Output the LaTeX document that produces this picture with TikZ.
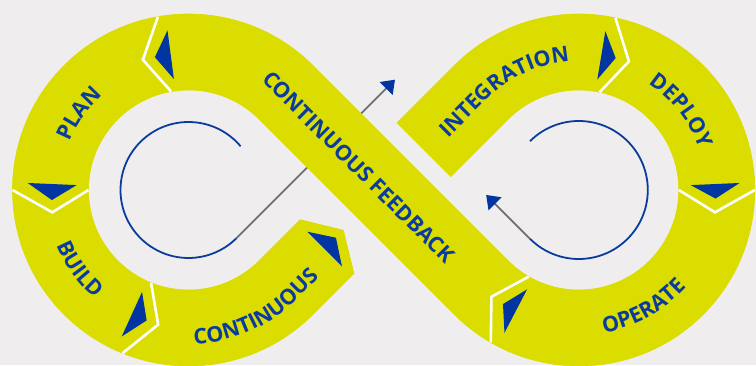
\documentclass[tikz,border=0pt]{standalone}
\usepackage{fontspec}
\setmainfont{Open Sans}
\usepackage{xcolor}
\usepackage{tikz}
\usetikzlibrary{arrows.meta, calc, decorations.text}

\definecolor{bgcol}{HTML}{EFEDEE}
\definecolor{segyellow}{HTML}{DBDD00}
\definecolor{textblue}{HTML}{0A3C9E}
\definecolor{markblue}{HTML}{0035A2}
\definecolor{linegray}{HTML}{6E6E6E}
\newcommand{\lblfont}{\fontsize{21.5}{21.5}\selectfont\bfseries\color{textblue}}

\begin{document}
\begin{tikzpicture}[
    x=1pt, y=1pt,
    segfill/.style={fill=segyellow, draw=segyellow, line width=0.6pt},
    divider/.style={draw=white, line width=2.6pt},
    tipmark/.style={fill=markblue},
    loopcurve/.style={draw=textblue, line width=1.8pt},
    loopline/.style={draw=linegray, line width=1.8pt, -{Triangle[length=12.5pt, width=18pt, color=markblue]}},
    steplabel/.style={font=\lblfont, text=textblue},
    curvedlabel/.style={decorate, decoration={text along path, text align=center, text={|\lblfont|#1}}}
]
% Canvas
\fill[bgcol] (0,0) rectangle (756,365);
\useasboundingbox (0,0) rectangle (756,365);

% Loop centres
\coordinate (cl) at (188.5,175);
\coordinate (cr) at (578.8,175);

% Inner loops with their arrows
\draw[loopcurve] ($(cl)+(40:68)$) arc[start angle=40, end angle=315, radius=68];
\coordinate (lfoot) at ($(cl)+(-45:68)$);
\coordinate (lhead) at ($(lfoot)+(45:224)$);
\draw[loopline] (lfoot) -- (lhead);
\draw[loopcurve] ($(cr)+(135:69)$) arc[start angle=135, end angle=-135, radius=69];
\coordinate (rfoot) at ($(cr)+(-135:69)$);
\coordinate (rhead) at ($(rfoot)+(135:62)$);
\draw[loopline] (rfoot) -- (rhead);

% Rings
\path[segfill] ($(cl)+(45:176)$) arc[start angle=45, end angle=315, radius=176]
    -- ($(cl)+(315:100)$) arc[start angle=315, end angle=45, radius=100] -- cycle;
\path[segfill] ($(cr)+(135:176)$) arc[start angle=135, end angle=-135, radius=176]
    -- ($(cr)+(-135:100)$) arc[start angle=-135, end angle=135, radius=100] -- cycle;
% Crossing band
\path[segfill] ($(cl)+(45:176)$) -- ($(cr)+(225:100)$) -- ($(cr)+(225:176)$) -- ($(cl)+(45:100)$) -- cycle;
% Continuous: pointed end before the crossing
\path[segfill] ($(cl)+(-45:100)$) -- ($(cl)+(-45:100)+(45:58)$) -- ($(cl)+(-45:138)+(45:81)$)
    -- ($(cl)+(-45:176)+(45:58)$) -- ($(cl)+(-45:176)$) -- cycle;
% Integration: straight end after the crossing
\path[segfill] ($(cr)+(135:176)$) -- ($(cr)+(135:176)+(225:81)$) -- ($(cr)+(135:100)+(225:81)$)
    -- ($(cr)+(135:100)$) -- cycle;

% Dividers
\foreach \a/\v in {100/109.3, 180/189.3, 248/257.3}
  \draw[divider] ($(cl)+(\a:176)$) -- ($(cl)+(\v:138)$) -- ($(cl)+(\a:100)$);
\foreach \a/\v in {78/68.7, 0/-9.3, 240/230.7}
  \draw[divider] ($(cr)+(\a:176)$) -- ($(cr)+(\v:138)$) -- ($(cr)+(\a:100)$);

% Direction marks
\foreach \a in {100,180,248}
  \fill[tipmark] ($(cl)+(\a-2.5:112)$) -- ($(cl)+(\a-2.5:161)$) -- ($(cl)+(\a+4.2:137)$) -- cycle;
\foreach \a in {78,0,240}
  \fill[tipmark] ($(cr)+(\a+2.5:112)$) -- ($(cr)+(\a+2.5:161)$) -- ($(cr)+(\a-3.6:137)$) -- cycle;
\fill[tipmark] ($(cl)+(-45:113.5)+(45:54.5)$) -- ($(cl)+(-45:162.5)+(45:54.5)$) -- ($(cl)+(-45:138)+(45:70.5)$) -- cycle;

% Labels
\node[steplabel, rotate=-45] (feedback) at ($(cl)+(45:136.5)+(-45:104)$) {CONTINUOUS FEEDBACK};
\path[curvedlabel=PLAN] ($(cl)+(175:128)$) arc[start angle=175, end angle=115, radius=128];
\path[curvedlabel=BUILD] ($(cl)+(186:143)$) arc[start angle=186, end angle=246, radius=143];
\path[curvedlabel=CONTINUOUS] ($(cl)+(-98.5:154)$) arc[start angle=-98.5, end angle=-45, radius=154] -- ++(45:60);
\path[curvedlabel=INTEGRATION] ($(cr)+(135:129)+(225:60)$) -- ($(cr)+(135:129)$) arc[start angle=135, end angle=92.1, radius=129];
\path[curvedlabel=DEPLOY] ($(cr)+(67.6:127)$) arc[start angle=67.6, end angle=7.6, radius=127];
\path[curvedlabel=OPERATE] ($(cr)+(-91:145)$) arc[start angle=-91, end angle=-31, radius=145];

\end{tikzpicture}
\end{document}
